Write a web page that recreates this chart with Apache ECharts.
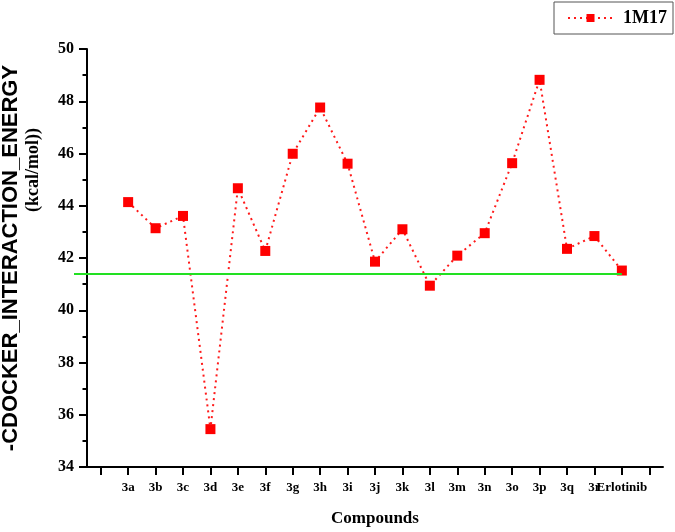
<!DOCTYPE html>
<html>
<head>
<meta charset="utf-8">
<title>1M17 docking</title>
<script src="https://cdn.jsdelivr.net/npm/echarts@6/dist/echarts.min.js"></script>
<style>
  html, body { margin: 0; padding: 0; background: #fff; }
  #chart { width: 675px; height: 532px; }
</style>
</head>
<body>
<div id="chart"></div>
<script>
// compounds on the x axis (empty slots at both ends, as in the original plot)
const compounds = ['3a', '3b', '3c', '3d', '3e', '3f', '3g', '3h', '3i', '3j',
  '3k', '3l', '3m', '3n', '3o', '3p', '3q', '3r', 'Erlotinib']
const categories = [''].concat(compounds, [''])

// -CDOCKER_INTERACTION_ENERGY (kcal/mol)
const energies = [44.14, 43.14, 43.61, 35.45, 44.67, 42.27, 45.99, 47.76, 45.61, 41.86,
  43.10, 40.94, 42.09, 42.95, 45.63, 48.82, 42.35, 42.84, 41.52]
const seriesData = [null].concat(energies, [null])

// green reference level
const referenceLevel = 41.38

const yMin = 34
const yMax = 50
const yStep = 2

const serif = '"Liberation Serif", "Times New Roman", serif'
const sans = '"Liberation Sans", Arial, sans-serif'

const chart = echarts.init(document.getElementById('chart'))

const option = {
  animation: false,
  backgroundColor: '#fff',
  grid: { left: 87, right: 12, top: 49, bottom: 63 },
  legend: {
    data: ['1M17'],
    right: 2,
    top: 2,
    padding: [7, 6, 7, 13],
    borderColor: '#555',
    borderWidth: 1,
    backgroundColor: '#fff',
    itemWidth: 45,
    itemHeight: 10,
    textStyle: { fontFamily: serif, fontWeight: 'bold', fontSize: 18, color: '#000', padding: [0, 0, 0, 5] },
  },
  graphic: [
    {
      type: 'text', x: 11, y: 258, rotation: Math.PI / 2,
      style: { text: '-CDOCKER_INTERACTION_ENERGY', font: 'bold 22px ' + sans, fill: '#000', align: 'center', verticalAlign: 'middle' },
    },
    {
      type: 'text', x: 33, y: 170, rotation: Math.PI / 2,
      style: { text: '(kcal/mol))', font: 'bold 18px ' + serif, fill: '#000', align: 'center', verticalAlign: 'middle' },
    },
  ],
  xAxis: {
    type: 'category',
    data: categories,
    boundaryGap: true,
    name: 'Compounds',
    nameLocation: 'middle',
    nameGap: 43,
    nameTextStyle: { fontFamily: serif, fontWeight: 'bold', fontSize: 17, color: '#000' },
    axisLine: { show: true, lineStyle: { color: '#000', width: 2 } },
    axisTick: { show: true, alignWithLabel: true, length: 8, interval: 0, lineStyle: { color: '#000', width: 2 } },
    axisLabel: { interval: 0, margin: 14, fontFamily: serif, fontWeight: 'bold', fontSize: 13, color: '#000' },
    splitLine: { show: false },
  },
  yAxis: {
    type: 'value',
    min: yMin,
    max: yMax,
    interval: yStep,
    axisLine: { show: true, lineStyle: { color: '#000', width: 2 } },
    axisTick: { show: true, length: 8, lineStyle: { color: '#000', width: 2 } },
    minorTick: { show: true, splitNumber: 2, length: 4.5, lineStyle: { color: '#000', width: 2 } },
    axisLabel: { margin: 13, fontFamily: serif, fontWeight: 'bold', fontSize: 16, color: '#000' },
    splitLine: { show: false },
  },
  series: [
    {
      name: '1M17',
      type: 'line',
      data: seriesData,
      connectNulls: false,
      symbol: 'rect',
      symbolSize: 10,
      itemStyle: { color: '#ff0000' },
      lineStyle: { color: '#ff1a1a', width: 2, type: [2, 4] },
      markLine: {
        silent: true,
        symbol: 'none',
        label: { show: false },
        lineStyle: { color: '#22e022', width: 2, type: 'solid' },
        data: [[{ x: 74, yAxis: referenceLevel }, { xAxis: 'Erlotinib', yAxis: referenceLevel }]],
      },
    },
  ],
}

chart.setOption(option)
</script>
</body>
</html>
